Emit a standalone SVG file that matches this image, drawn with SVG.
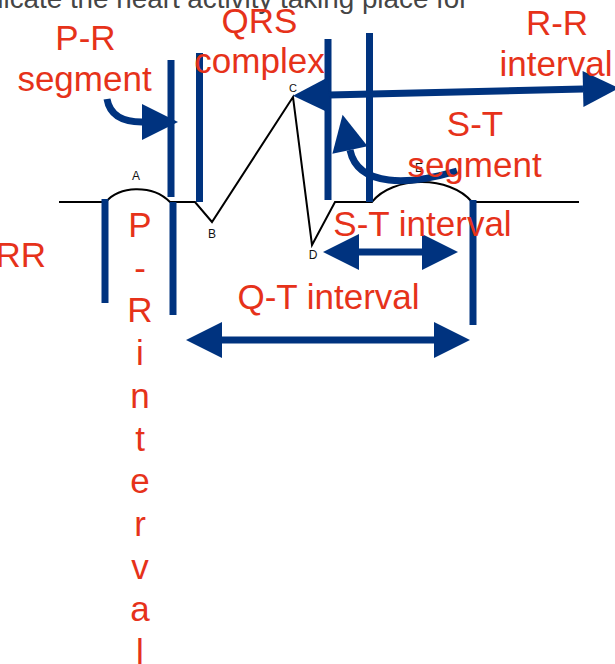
<svg xmlns="http://www.w3.org/2000/svg" width="615" height="664" viewBox="0 0 615 664">
<style>
.lbl{font-family:"Liberation Sans",Arial,Helvetica,sans-serif;font-size:35px;fill:#E6321A;text-anchor:middle}
.pt{font-family:"Liberation Sans",Arial,Helvetica,sans-serif;font-size:12px;fill:#111;text-anchor:middle}
.hdr{font-family:"Liberation Sans",Arial,Helvetica,sans-serif;font-size:27.8px;fill:#454545}
.trace{fill:none;stroke:#000;stroke-width:2;stroke-linejoin:miter}
.bar{stroke:#00337F;stroke-width:7;fill:none}
.arr{stroke:#00337F;stroke-width:7;fill:none;marker-end:url(#head)}
.darr{stroke:#00337F;stroke-width:7;fill:none;marker-start:url(#head);marker-end:url(#head)}
</style>
<defs>
<marker id="head" markerUnits="userSpaceOnUse" markerWidth="36" markerHeight="36" viewBox="0 0 36 36" refX="0" refY="18" orient="auto-start-reverse" overflow="visible">
<path d="M0,0 L36,18 L0,36 Z" fill="#00337F"/>
</marker>
</defs>
<rect width="615" height="664" fill="#fff"/>

<g id="header"><text class="hdr" x="-12" y="8">dicate the heart activity taking place for</text></g>

<g id="ecg-trace">
<path class="trace" d="M59,202 H106 C118,186 152,184 170,202 H195 L212,222 L293,97 L312,245 L335,202 H372 C392,176 450,175 472,202 H579"/>
<text class="pt" x="136" y="180">A</text>
<text class="pt" x="212" y="238">B</text>
<text class="pt" x="293" y="92" style="font-size:11px">C</text>
<text class="pt" x="313" y="259">D</text>
<text class="pt" x="419" y="172">E</text>
</g>

<g id="boundary-lines">
<line class="bar" x1="105" y1="199" x2="105" y2="303"/>
<line class="bar" x1="173" y1="202" x2="173" y2="315"/>
<line class="bar" x1="171" y1="60" x2="171" y2="197"/>
<line class="bar" x1="199.5" y1="53" x2="199.5" y2="202"/>
<line class="bar" x1="328" y1="39" x2="328" y2="200"/>
<line class="bar" x1="369.5" y1="33" x2="369.5" y2="202"/>
<line class="bar" x1="473" y1="200" x2="473" y2="325"/>
</g>

<g id="connectors">
<path id="rr-arrow" class="darr" d="M329,95 L583,89"/>
<path id="pr-seg-arrow" class="arr" d="M107,99 Q111,122 142,122"/>
<path id="st-seg-arrow" class="arr" d="M457,171 C410,185 358,188 350,150"/>
<path id="st-int-arrow" class="darr" d="M359,252 L422,252"/>
<path id="qt-int-arrow" class="darr" d="M222,340 L434,340"/>
</g>

<g id="label-pr-segment"><text class="lbl" x="85.5" y="50">P-R</text><text class="lbl" x="84.5" y="91">segment</text></g>
<g id="label-qrs"><text class="lbl" x="259.5" y="33">QRS</text><text class="lbl" x="259.5" y="73">complex</text></g>
<g id="label-rr-interval"><text class="lbl" x="557" y="35">R-R</text><text class="lbl" x="556" y="76">interval</text></g>
<g id="label-st-segment"><text class="lbl" x="475" y="136">S-T</text><text class="lbl" x="474.5" y="177">segment</text></g>
<g id="label-st-interval"><text class="lbl" x="422.5" y="236">S-T interval</text></g>
<g id="label-rr"><text class="lbl" x="46" y="267" style="text-anchor:end">RR</text></g>
<g id="label-qt-interval"><text class="lbl" x="328.5" y="309">Q-T interval</text></g>
<g id="label-pr-interval"><text class="lbl" x="140" y="237">P<tspan x="140" dy="42.7">-</tspan><tspan x="140" dy="42.7">R</tspan><tspan x="140" dy="42.7">i</tspan><tspan x="140" dy="42.7">n</tspan><tspan x="140" dy="42.7">t</tspan><tspan x="140" dy="42.7">e</tspan><tspan x="140" dy="42.7">r</tspan><tspan x="140" dy="42.7">v</tspan><tspan x="140" dy="42.7">a</tspan><tspan x="140" dy="42.7">l</tspan></text></g>
</svg>
